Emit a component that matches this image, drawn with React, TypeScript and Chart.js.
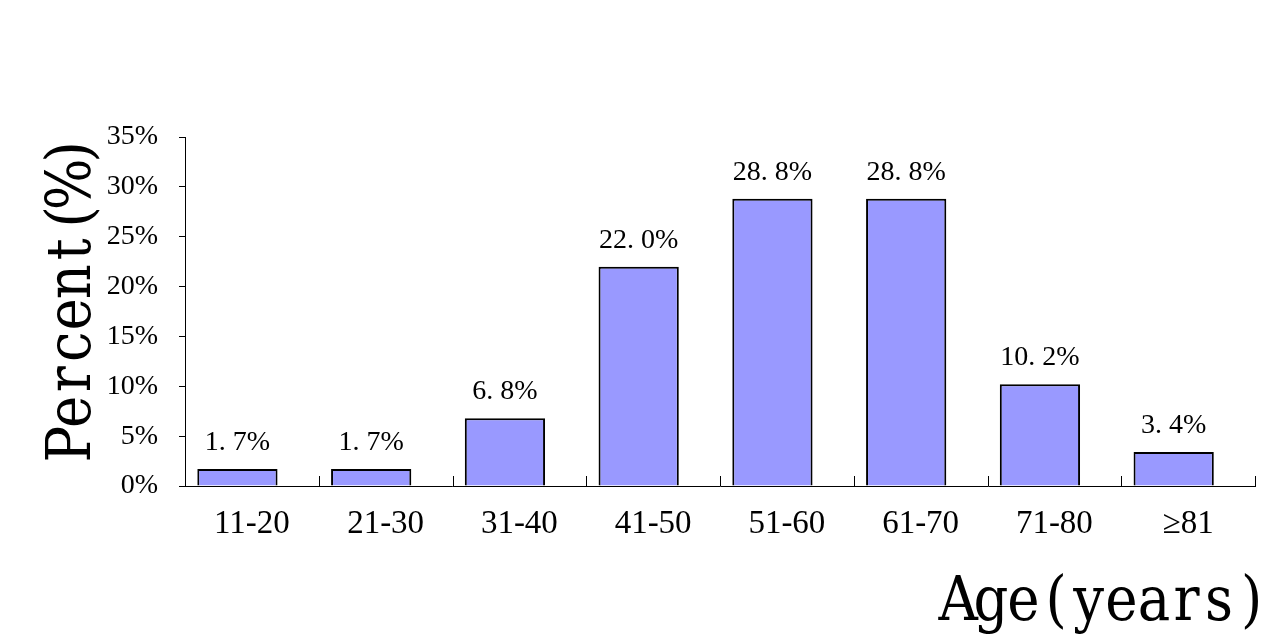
import React, { useEffect, useRef } from "react";
import { Chart, registerables } from "chart.js";

Chart.register(...registerables);

const categories = ["11-20", "21-30", "31-40", "41-50", "51-60", "61-70", "71-80", "≥81"];
const percentValues = [1.7, 1.7, 6.8, 22.0, 28.8, 28.8, 10.2, 3.4];
const yTickValues = [0, 5, 10, 15, 20, 25, 30, 35];
const yTitle = "Percent(%)";
const xTitle = "Age(years)";

const formatLabel = (v: number) => v.toFixed(1).replace(".", ". ") + "%";

function drawMonoText(ctx: CanvasRenderingContext2D, text: string, totalWidth: number, sx: number) {
  const chars = Array.from(text);
  const cell = totalWidth / chars.length;
  chars.forEach((ch, i) => {
    ctx.save();
    ctx.translate(-totalWidth / 2 + cell * (i + 0.5), 0);
    ctx.scale(sx, 1);
    ctx.textAlign = "center";
    ctx.textBaseline = "alphabetic";
    ctx.fillText(ch, 0, 0);
    ctx.restore();
  });
}

const overlayPlugin = {
  id: "overlay",
  afterDraw(chart: any) {
    const ctx = chart.ctx;
    const xScale = chart.scales.x;
    const yScale = chart.scales.y;
    ctx.save();
    ctx.strokeStyle = "#000";
    ctx.lineWidth = 1;
    const y0 = yScale.getPixelForValue(0);
    for (let i = 1; i <= categories.length; i++) {
      const px = Math.round(xScale.getPixelForValue(i - 0.5)) + 0.5;
      ctx.beginPath();
      ctx.moveTo(px, y0);
      ctx.lineTo(px, y0 - 10);
      ctx.stroke();
    }
    const meta = chart.getDatasetMeta(0);
    ctx.fillStyle = "#000";
    ctx.font = "28px 'Liberation Serif'";
    ctx.textAlign = "center";
    ctx.textBaseline = "alphabetic";
    meta.data.forEach((el: any, i: number) => {
      ctx.fillText(formatLabel(percentValues[i]), el.x, el.y - 19);
    });
    // y title
    ctx.save();
    ctx.font = "62px 'DejaVu Serif'";
    ctx.translate(90, 298);
    ctx.rotate(-Math.PI / 2);
    drawMonoText(ctx, yTitle, 325, 0.88);
    ctx.restore();
    // x title
    ctx.save();
    ctx.font = "62px 'DejaVu Serif'";
    ctx.translate(1105, 620);
    drawMonoText(ctx, xTitle, 326, 0.88);
    ctx.restore();
    ctx.restore();
  },
};

export default function App() {
  const canvasRef = useRef<HTMLCanvasElement | null>(null);

  useEffect(() => {
    if (!canvasRef.current) return;
    const chart = new Chart(canvasRef.current, {
      type: "bar",
      data: {
        labels: categories,
        datasets: [
          {
            data: percentValues.map((v, i) => ({ x: i, y: v })) as any,
            xAxisID: "xb",
            yAxisID: "y",
            backgroundColor: "#9999FF",
            borderColor: "#000000",
            borderWidth: 2,
            barPercentage: 0.6,
            categoryPercentage: 1,
          },
        ],
      },
      options: {
        animation: false,
        responsive: false,
        events: [],
        layout: { padding: { top: 137, right: 33, bottom: 0, left: 0 } },
        plugins: {
          legend: { display: false },
          tooltip: { enabled: false },
          title: { display: false },
        },
        scales: {
          x: {
            type: "category",
            position: "bottom",
            offset: true,
            grid: { display: false, drawTicks: false },
            border: { display: true, color: "#000", width: 1 },
            ticks: {
              color: "#000",
              font: { family: "'Liberation Serif'", size: 33 },
              padding: 19,
              maxRotation: 0,
              autoSkip: false,
            },
            afterFit: (s: any) => {
              s.height = 158;
            },
          },
          xb: {
            type: "linear",
            display: false,
            offset: false,
            min: -0.392,
            max: 7.608,
            grid: { offset: false },
            afterBuildTicks: (s: any) => {
              s.ticks = categories.map((_, i) => ({ value: i }));
            },
          },
          y: {
            type: "linear",
            min: 0,
            max: 35,
            afterBuildTicks: (s: any) => {
              s.ticks = yTickValues.map((v) => ({ value: v }));
            },
            grid: {
              drawOnChartArea: false,
              drawTicks: true,
              tickLength: 6,
              tickColor: "#000",
              tickWidth: 1,
            },
            border: { display: true, color: "#000", width: 1 },
            ticks: {
              color: "#000",
              font: { family: "'Liberation Serif'", size: 28 },
              padding: 21,
              callback: (v: any) => v + "%",
            },
            afterFit: (s: any) => {
              s.width = 185;
            },
          },
        },
      },
      plugins: [overlayPlugin],
    });
    return () => chart.destroy();
  }, []);

  return (
    <div style={{ position: "absolute", left: 0, top: 0, width: 1288, height: 644, background: "#fff" }}>
      <canvas ref={canvasRef} width={1288} height={644} style={{ display: "block" }} />
    </div>
  );
}
